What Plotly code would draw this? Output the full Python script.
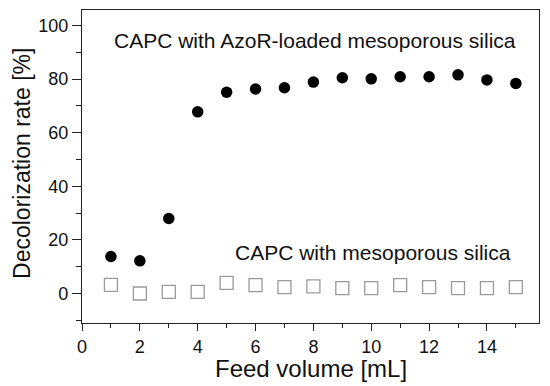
import plotly.graph_objects as go

feed_volume = [1, 2, 3, 4, 5, 6, 7, 8, 9, 10, 11, 12, 13, 14, 15]
azor_loaded = [13.8, 12.2, 28.0, 67.8, 75.1, 76.3, 76.8, 78.9, 80.5, 80.1, 80.9, 80.9, 81.6, 79.7, 78.4]
mesoporous = [3.2, 0.0, 0.6, 0.6, 4.0, 3.1, 2.4, 2.7, 2.0, 2.0, 3.1, 2.4, 2.0, 2.0, 2.4]

label_azor = "CAPC with AzoR-loaded mesoporous silica"
label_meso = "CAPC with mesoporous silica"
x_title = "Feed volume [mL]"
y_title = "Decolorization rate [%]"

fig = go.Figure()
fig.add_trace(go.Scatter(
    x=feed_volume, y=mesoporous, mode="markers", name=label_meso,
    marker=dict(symbol="square-open", size=13, color="#9a9a9a", line=dict(width=1.3, color="#9a9a9a")),
))
fig.add_trace(go.Scatter(
    x=feed_volume, y=azor_loaded, mode="markers", name=label_azor,
    marker=dict(symbol="circle", size=11.5, color="black"),
))

font = "Liberation Sans, Arial, sans-serif"
fig.add_annotation(x=0.51, y=0.904, xref="paper", yref="paper", text=label_azor,
                   showarrow=False, xanchor="center", yanchor="middle",
                   font=dict(family=font, size=21, color="#111"))
fig.add_annotation(x=0.943, y=0.225, xref="paper", yref="paper", text=label_meso,
                   showarrow=False, xanchor="right", yanchor="middle",
                   font=dict(family=font, size=21, color="#111"))
fig.add_annotation(x=0.5, y=-0.144, xref="paper", yref="paper", text=x_title,
                   showarrow=False, xanchor="center", yanchor="middle",
                   font=dict(family=font, size=24, color="#111"))
fig.add_annotation(x=-0.13, y=0.51, xref="paper", yref="paper", text=y_title,
                   showarrow=False, xanchor="center", yanchor="middle", textangle=-90,
                   font=dict(family=font, size=23, color="#111"))

axis_common = dict(
    showline=True, linecolor="#222", linewidth=1.3, mirror=True,
    ticks="outside", tickcolor="#222", tickwidth=1.2,
    showgrid=False, zeroline=False, automargin=False,
    tickfont=dict(family=font, size=18, color="#111"),
)
fig.update_xaxes(range=[0, 15.8], dtick=2, tick0=0, ticklen=7,
                 minor=dict(dtick=1, tick0=0, ticks="outside", ticklen=4, tickcolor="#222", showgrid=False),
                 **axis_common)
fig.update_yaxes(range=[-11, 105.8], dtick=20, tick0=0, ticklen=9,
                 minor=dict(dtick=10, tick0=0, ticks="outside", ticklen=5, tickcolor="#222", showgrid=False),
                 **axis_common)

# The page body has an 8px default margin, so the figure is 8px smaller
fig.update_layout(
    width=542, height=378,
    margin=dict(l=74, r=11, t=2, b=63),
    paper_bgcolor="white", plot_bgcolor="white",
    showlegend=False,
)
fig.write_html("out.html")
